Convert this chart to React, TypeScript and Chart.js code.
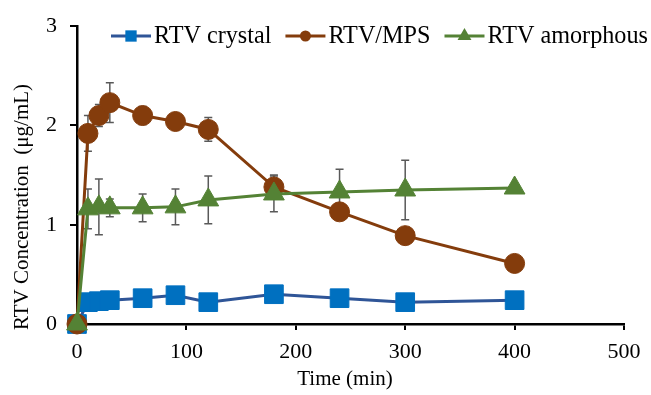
import React, { useEffect, useRef } from 'react';
import { Chart, registerables } from 'chart.js';

Chart.register(...registerables);

// ---- data ----
const times = [0, 10, 20, 30, 60, 90, 120, 180, 240, 300, 400];
const crystal = [0, 0.22, 0.23, 0.24, 0.26, 0.29, 0.22, 0.3, 0.26, 0.22, 0.24];
const crystalErr = [0, 0.02, 0.02, 0.05, 0.03, 0.03, 0.03, 0.03, 0.03, 0.05, 0.03];
const mps = [0, 1.92, 2.1, 2.23, 2.1, 2.04, 1.96, 1.38, 1.13, 0.89, 0.61];
const mpsErr = [0, 0.18, 0.11, 0.2, 0.09, 0.05, 0.12, 0.12, 0.05, 0.05, 0.03];
const amorphous = [0, 1.16, 1.18, 1.17, 1.17, 1.18, 1.25, 1.31, 1.33, 1.35, 1.37];
const amorphousErr = [0, 0.2, 0.28, 0.09, 0.14, 0.18, 0.24, 0.18, 0.23, 0.3, 0.03];
const seriesNames = ['RTV crystal', 'RTV/MPS', 'RTV amorphous'];
const xTicks = [0, 100, 200, 300, 400, 500];
const yTicks = [0, 1, 2, 3];
const xTitle = 'Time (min)';
const yTitle = 'RTV Concentration  (\u03bcg/mL)';

const FONT = '"Liberation Serif", "Times New Roman", serif';

const styles = [
  { line: '#2F5597', marker: '#0070C0', shape: 'rect', r: 13.2 },
  { line: '#843C0C', marker: '#843C0C', shape: 'circle', r: 10 },
  { line: '#548235', marker: '#548235', shape: 'triangle', r: 12 },
];

function drawMarker(ctx: CanvasRenderingContext2D, shape: string, x: number, y: number, r: number, color: string) {
  ctx.save();
  ctx.fillStyle = color;
  ctx.beginPath();
  if (shape === 'rect') {
    const s = r * Math.SQRT1_2;
    ctx.rect(x - s, y - s, 2 * s, 2 * s);
  } else if (shape === 'circle') {
    ctx.arc(x, y, r, 0, Math.PI * 2);
  } else {
    ctx.moveTo(x, y - r);
    ctx.lineTo(x + r * Math.sin(Math.PI / 3), y + r / 2);
    ctx.lineTo(x - r * Math.sin(Math.PI / 3), y + r / 2);
    ctx.closePath();
  }
  ctx.fill();
  ctx.restore();
}

const errorBars = {
  id: 'errorBars',
  beforeDatasetsDraw(chart: any) {
    const ctx = chart.ctx;
    const ys = chart.scales.y;
    ctx.save();
    ctx.strokeStyle = '#595959';
    ctx.lineWidth = 1.5;
    chart.data.datasets.forEach((ds: any, i: number) => {
      const meta = chart.getDatasetMeta(i);
      ds.errors.forEach((e: number, j: number) => {
        if (!e) return;
        const pt = meta.data[j];
        const v = ds.data[j].y;
        const yt = ys.getPixelForValue(v + e);
        const yb = ys.getPixelForValue(v - e);
        ctx.beginPath();
        ctx.moveTo(pt.x, yt);
        ctx.lineTo(pt.x, yb);
        ctx.moveTo(pt.x - 4, yt);
        ctx.lineTo(pt.x + 4, yt);
        ctx.moveTo(pt.x - 4, yb);
        ctx.lineTo(pt.x + 4, yb);
        ctx.stroke();
      });
    });
    ctx.restore();
  },
};

const decorations = {
  id: 'decorations',
  afterDraw(chart: any) {
    const ctx = chart.ctx;
    ctx.save();
    ctx.fillStyle = '#000';
    ctx.font = `21px ${FONT}`;
    ctx.textAlign = 'center';
    ctx.textBaseline = 'middle';
    ctx.fillText(xTitle, 345, 379);
    ctx.save();
    ctx.translate(22, 207);
    ctx.rotate(-Math.PI / 2);
    ctx.fillText(yTitle, 0, 0);
    ctx.restore();

    // legend
    let x = 111;
    const ly = 36;
    ctx.textAlign = 'left';
    ctx.font = `24.2px ${FONT}`;
    seriesNames.forEach((name, i) => {
      const st = styles[i];
      ctx.strokeStyle = st.line;
      ctx.lineWidth = 3;
      ctx.beginPath();
      ctx.moveTo(x, ly);
      ctx.lineTo(x + 40, ly);
      ctx.stroke();
      drawMarker(ctx, st.shape, x + 20, ly, st.shape === 'circle' ? 5.5 : 8, st.marker);
      ctx.fillStyle = '#000';
      ctx.fillText(name, x + 43, ly + 1);
      x = x + 43 + ctx.measureText(name).width + 14;
    });
    ctx.restore();
  },
};

export default function App() {
  const ref = useRef<HTMLCanvasElement>(null);
  useEffect(() => {
    document.body.style.margin = '0';
    const seriesVals = [crystal, mps, amorphous];
    const seriesErrs = [crystalErr, mpsErr, amorphousErr];
    const datasets = seriesNames.map((name, i) => ({
      label: name,
      data: times.map((t, j) => ({ x: t, y: seriesVals[i][j] })),
      errors: seriesErrs[i],
      borderColor: styles[i].line,
      backgroundColor: styles[i].marker,
      pointBackgroundColor: styles[i].marker,
      pointBorderColor: styles[i].marker,
      pointBorderWidth: 1,
      pointStyle: styles[i].shape,
      pointRadius: styles[i].r,
      borderWidth: 3,
      tension: 0,
      order: 2 - i,
      clip: false as any,
    }));
    const chart = new Chart(ref.current!, {
      type: 'line',
      data: { datasets } as any,
      options: {
        animation: false,
        responsive: false,
        devicePixelRatio: 1,
        layout: { padding: { top: 23, right: 27, left: 0, bottom: 0 } },
        plugins: { legend: { display: false }, tooltip: { enabled: false } },
        scales: {
          x: {
            type: 'linear',
            min: 0,
            max: 500,
            afterBuildTicks: (s: any) => { s.ticks = xTicks.map((v) => ({ value: v })); },
            afterFit: (s: any) => { s.height = 71; },
            grid: { drawOnChartArea: false, drawTicks: true, tickLength: 6, color: '#000', lineWidth: 2 },
            border: { display: true, color: '#000', width: 2.5 },
            ticks: { color: '#000', font: { family: FONT, size: 22 }, padding: 9, maxRotation: 0 },
          },
          y: {
            min: 0,
            max: 3,
            afterBuildTicks: (s: any) => { s.ticks = yTicks.map((v) => ({ value: v })); },
            afterFit: (s: any) => { s.width = 77; },
            grid: { drawOnChartArea: false, drawTicks: true, tickLength: 7, color: '#000', lineWidth: 2 },
            border: { display: true, color: '#000', width: 2.5 },
            ticks: { color: '#000', font: { family: FONT, size: 22 }, padding: 13 },
          },
        },
      },
      plugins: [errorBars, decorations],
    } as any);
    return () => chart.destroy();
  }, []);
  return <canvas ref={ref} width={651} height={395} style={{ display: 'block' }} />;
}
